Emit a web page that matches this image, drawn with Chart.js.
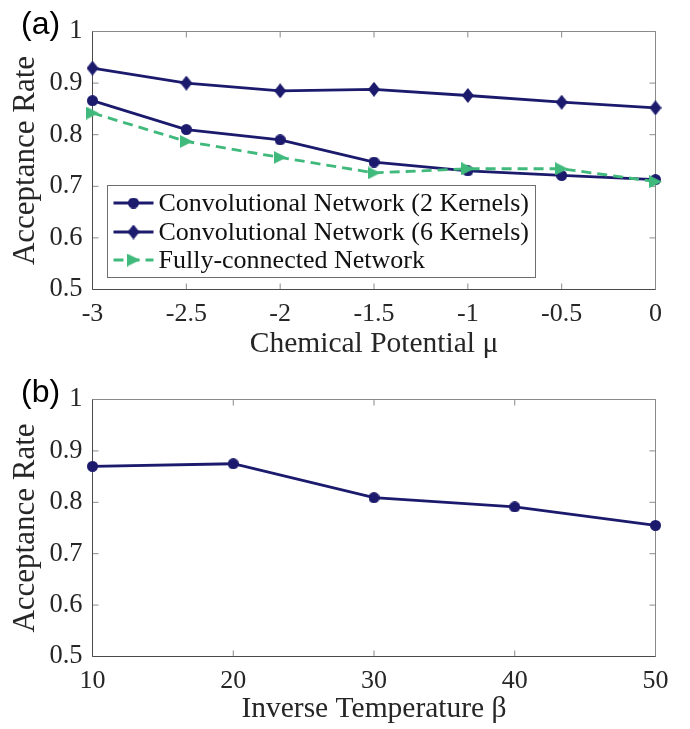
<!DOCTYPE html>
<html>
<head>
<meta charset="utf-8">
<script src="https://cdn.jsdelivr.net/npm/chart.js@4.4.1/dist/chart.umd.min.js"></script>
<style>
  html, body { margin: 0; padding: 0; background: #fff; }
  #wrap { position: relative; width: 690px; height: 729px; overflow: hidden; }
  canvas { position: absolute; left: 0; }
  #chartA { top: 0; }
  #chartB { top: 365px; }
  .panel { position: absolute; font-family: 'Liberation Sans', Arial, sans-serif; font-size: 32px; line-height: 32px; color: #000; }
</style>
</head>
<body>
<div id="wrap">
  <canvas id="chartA" width="690" height="365"></canvas>
  <canvas id="chartB" width="690" height="364"></canvas>
  <div class="panel" style="left:21px; top:7px;">(a)</div>
  <div class="panel" style="left:21px; top:375px;">(b)</div>
</div>
<script>
// panel (a): acceptance rate vs chemical potential
const muValues = [-3, -2.5, -2, -1.5, -1, -0.5, 0];
const conv2Rates = [0.866, 0.810, 0.790, 0.747, 0.730, 0.721, 0.713];
const conv6Rates = [0.929, 0.900, 0.885, 0.888, 0.876, 0.863, 0.852];
const fullRates = [0.842, 0.787, 0.756, 0.726, 0.734, 0.734, 0.709];
const seriesLabels = [
  'Convolutional Network (2 Kernels)',
  'Convolutional Network (6 Kernels)',
  'Fully-connected Network',
];
const muTicks = [-3, -2.5, -2, -1.5, -1, -0.5, 0];
const muTickLabels = ['-3', '-2.5', '-2', '-1.5', '-1', '-0.5', '0'];

// panel (b): acceptance rate vs inverse temperature
const betaValues = [10, 20, 30, 40, 50];
const betaRates = [0.870, 0.875, 0.809, 0.791, 0.755];
const betaTicks = [10, 20, 30, 40, 50];
const betaTickLabels = ['10', '20', '30', '40', '50'];

const rateTicks = [0.5, 0.6, 0.7, 0.8, 0.9, 1];
const rateTickLabels = ['0.5', '0.6', '0.7', '0.8', '0.9', '1'];

const NAVY = '#1b1a6c';
const GREEN = '#40b97c';
const SERIF = "'Liberation Serif', 'Times New Roman', serif";
const TEXT_COLOR = '#262626';

function makeMarker(shape, color, w, h) {
  const c = document.createElement('canvas');
  c.width = w;
  c.height = h;
  const g = c.getContext('2d');
  g.fillStyle = color;
  g.beginPath();
  if (shape === 'circle') {
    g.arc(w / 2, h / 2, w / 2, 0, Math.PI * 2);
  } else if (shape === 'diamond') {
    g.moveTo(w / 2, 0); g.lineTo(w, h / 2); g.lineTo(w / 2, h); g.lineTo(0, h / 2);
  } else {
    g.moveTo(0, 0); g.lineTo(w, h / 2); g.lineTo(0, h);
  }
  g.closePath();
  g.fill();
  return c;
}

const circleMark = makeMarker('circle', NAVY, 11, 11);
const diamondMark = makeMarker('diamond', NAVY, 12, 15);
const triangleMark = makeMarker('triangle', GREEN, 13, 13);

const toPoints = (xs, ys) => xs.map((x, i) => ({ x, y: ys[i] }));

// box with inward ticks on all four sides
const matlabAxes = {
  id: 'matlabAxes',
  beforeDatasetsDraw(chart) {
    const { ctx, chartArea: a, scales: { x, y } } = chart;
    const TL = 6;
    ctx.save();
    ctx.lineWidth = 1;
    ctx.strokeStyle = '#8a8a8a';
    ctx.beginPath();
    x.ticks.forEach((t) => {
      const px = x.getPixelForValue(t.value);
      ctx.moveTo(px, a.bottom); ctx.lineTo(px, a.bottom - TL);
      ctx.moveTo(px, a.top); ctx.lineTo(px, a.top + TL);
    });
    y.ticks.forEach((t) => {
      const py = y.getPixelForValue(t.value);
      ctx.moveTo(a.left, py); ctx.lineTo(a.left + TL, py);
      ctx.moveTo(a.right, py); ctx.lineTo(a.right - TL, py);
    });
    ctx.moveTo(a.left, a.top); ctx.lineTo(a.right, a.top); ctx.lineTo(a.right, a.bottom);
    ctx.stroke();
    ctx.strokeStyle = '#4a4a4a';
    ctx.beginPath();
    ctx.moveTo(a.left, a.top); ctx.lineTo(a.left, a.bottom); ctx.lineTo(a.right, a.bottom);
    ctx.stroke();
    ctx.restore();
  },
};

// framed legend inside the plot area
const boxLegend = {
  id: 'boxLegend',
  afterDatasetsDraw(chart, args, opts) {
    if (!opts || !opts.show) {
      return;
    }
    const { ctx } = chart;
    ctx.save();
    ctx.fillStyle = '#fff';
    ctx.fillRect(opts.left, opts.top, opts.width, opts.height);
    ctx.strokeStyle = '#6e6e6e';
    ctx.lineWidth = 1;
    ctx.strokeRect(opts.left, opts.top, opts.width, opts.height);
    chart.data.datasets.forEach((ds, i) => {
      const rowY = opts.top + opts.rows[i];
      const x0 = opts.left + 6;
      const x1 = opts.left + 46;
      ctx.beginPath();
      ctx.setLineDash(ds.borderDash || []);
      ctx.strokeStyle = ds.borderColor;
      ctx.lineWidth = ds.borderWidth;
      ctx.moveTo(x0, rowY);
      ctx.lineTo(x1, rowY);
      ctx.stroke();
      ctx.setLineDash([]);
      const m = ds.pointStyle;
      ctx.drawImage(m, (x0 + x1) / 2 - m.width / 2, rowY - m.height / 2);
      ctx.fillStyle = '#111';
      ctx.font = `26px ${SERIF}`;
      ctx.textAlign = 'left';
      ctx.textBaseline = 'middle';
      ctx.fillText(ds.label, opts.left + 51, rowY + 1);
    });
    ctx.restore();
  },
};

function lineDataset(label, points, color, marker, dashed, order) {
  return {
    label,
    data: points,
    borderColor: color,
    backgroundColor: color,
    borderWidth: 2.8,
    borderDash: dashed ? [10, 6] : [],
    pointStyle: marker,
    pointRadius: 6,
    pointHoverRadius: 6,
    tension: 0,
    clip: false,
    order,
  };
}

function panelOptions(cfg) {
  return {
    responsive: false,
    animation: false,
    events: [],
    layout: { padding: { left: 0, right: cfg.padRight, top: cfg.padTop, bottom: 0 } },
    plugins: {
      legend: { display: false },
      tooltip: { enabled: false },
      boxLegend: cfg.legend || { show: false },
    },
    scales: {
      x: {
        type: 'linear',
        min: cfg.xMin,
        max: cfg.xMax,
        afterBuildTicks(scale) { scale.ticks = cfg.xTicks.map((v) => ({ value: v })); },
        afterFit(scale) { scale.height = cfg.xHeight; },
        grid: { display: false, drawTicks: false },
        border: { display: false },
        ticks: {
          autoSkip: false,
          maxRotation: 0,
          padding: 9,
          color: TEXT_COLOR,
          font: { family: SERIF, size: 26 },
          callback: (value, index) => cfg.xTickLabels[index],
        },
        title: {
          display: true,
          text: cfg.xTitle,
          color: TEXT_COLOR,
          font: { family: SERIF, size: 29.5, lineHeight: 1 },
          padding: { top: 0, bottom: cfg.xTitlePad },
        },
      },
      y: {
        type: 'linear',
        min: 0.5,
        max: 1,
        afterBuildTicks(scale) { scale.ticks = rateTicks.map((v) => ({ value: v })); },
        afterFit(scale) { scale.width = 92.5; },
        grid: { display: false, drawTicks: false },
        border: { display: false },
        ticks: {
          autoSkip: false,
          padding: 10,
          color: TEXT_COLOR,
          font: { family: SERIF, size: 26.5 },
          callback: (value, index) => rateTickLabels[index],
        },
        title: {
          display: true,
          text: 'Acceptance Rate',
          color: TEXT_COLOR,
          font: { family: SERIF, size: 31, lineHeight: 1 },
          padding: { top: 10, bottom: 0 },
        },
      },
    },
  };
}

new Chart(document.getElementById('chartA'), {
  type: 'line',
  data: {
    datasets: [
      lineDataset(seriesLabels[0], toPoints(muValues, conv2Rates), NAVY, circleMark, false, 1),
      lineDataset(seriesLabels[1], toPoints(muValues, conv6Rates), NAVY, diamondMark, false, 2),
      lineDataset(seriesLabels[2], toPoints(muValues, fullRates), GREEN, triangleMark, true, 0),
    ],
  },
  options: panelOptions({
    padRight: 34.5,
    padTop: 31.5,
    xMin: -3,
    xMax: 0,
    xTicks: muTicks,
    xTickLabels: muTickLabels,
    xHeight: 75.5,
    xTitle: 'Chemical Potential \u03bc',
    xTitlePad: 6,
    legend: { show: true, left: 107.5, top: 185.5, width: 428, height: 92, rows: [17.5, 46.5, 74.5] },
  }),
  plugins: [matlabAxes, boxLegend],
});

new Chart(document.getElementById('chartB'), {
  type: 'line',
  data: {
    datasets: [
      lineDataset('Convolutional Network (2 Kernels)', toPoints(betaValues, betaRates), NAVY, circleMark, false, 0),
    ],
  },
  options: panelOptions({
    padRight: 34.5,
    padTop: 34.5,
    xMin: 10,
    xMax: 50,
    xTicks: betaTicks,
    xTickLabels: betaTickLabels,
    xHeight: 72.5,
    xTitle: 'Inverse Temperature \u03b2',
    xTitlePad: 5,
  }),
  plugins: [matlabAxes, boxLegend],
});
</script>
</body>
</html>
